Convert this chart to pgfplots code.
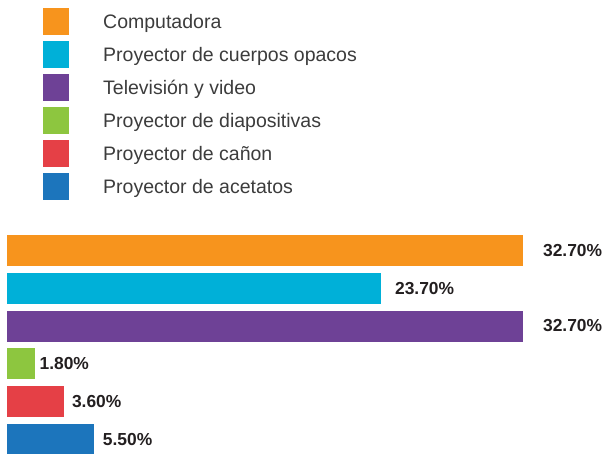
\documentclass[border=0pt]{standalone}
\usepackage{pgfplots}
\pgfplotsset{compat=1.18}
\usepackage{fontspec}
\setmainfont{Liberation Sans}
\definecolor{cOrange}{HTML}{F7941D}
\definecolor{cCyan}{HTML}{00B0D8}
\definecolor{cPurple}{HTML}{6E4196}
\definecolor{cGreen}{HTML}{8DC63F}
\definecolor{cRed}{HTML}{E54046}
\definecolor{cBlue}{HTML}{1C75BC}
\definecolor{cText}{HTML}{231F20}
\definecolor{cLegend}{HTML}{3C3C3C}
\begin{document}
\begin{tikzpicture}
\useasboundingbox (0,0) rectangle (604bp,454bp);
\begin{axis}[
  at={(7bp,0bp)}, anchor=south west,
  scale only axis, width=568bp, height=219bp,
  xmin=0, xmax=36, ymin=-0.41, ymax=5.39, y dir=reverse,
  hide axis, clip=false,
  xbar, bar width=31bp, bar shift=0pt,
  point meta=explicit symbolic,
  nodes near coords,
  every node near coord/.append style={font=\fontsize{17.4bp}{20bp}\selectfont\bfseries, text=cText, anchor=west, inner sep=0pt},
  legend style={at={(0.0634,2.0365)}, anchor=north west, draw=none, fill=none, inner sep=0pt,
    row sep=6bp, column sep=34bp,
    nodes={inner sep=0pt, anchor=west, text=cLegend, font=\fontsize{19.5bp}{22bp}\selectfont}},
  legend cell align=left,
  legend image code/.code={\fill[#1, draw=none] (0bp,-13.5bp) rectangle (26bp,13.5bp);},
]
\addplot[fill=cOrange, draw=none, every node near coord/.append style={xshift=20bp}] coordinates {(32.7,0) [32.70\%]};
\addlegendentry{Computadora}
\addplot[fill=cCyan, draw=none, every node near coord/.append style={xshift=14bp}] coordinates {(23.7,1) [23.70\%]};
\addlegendentry{Proyector de cuerpos opacos}
\addplot[fill=cPurple, draw=none, every node near coord/.append style={xshift=20bp}] coordinates {(32.7,2) [32.70\%]};
\addlegendentry{Televisión y video}
\addplot[fill=cGreen, draw=none, every node near coord/.append style={xshift=4bp}] coordinates {(1.8,3) [1.80\%]};
\addlegendentry{Proyector de diapositivas}
\addplot[fill=cRed, draw=none, every node near coord/.append style={xshift=8bp}] coordinates {(3.6,4) [3.60\%]};
\addlegendentry{Proyector de cañon}
\addplot[fill=cBlue, draw=none, every node near coord/.append style={xshift=9bp}] coordinates {(5.5,5) [5.50\%]};
\addlegendentry{Proyector de acetatos}
\end{axis}
\end{tikzpicture}
\end{document}
